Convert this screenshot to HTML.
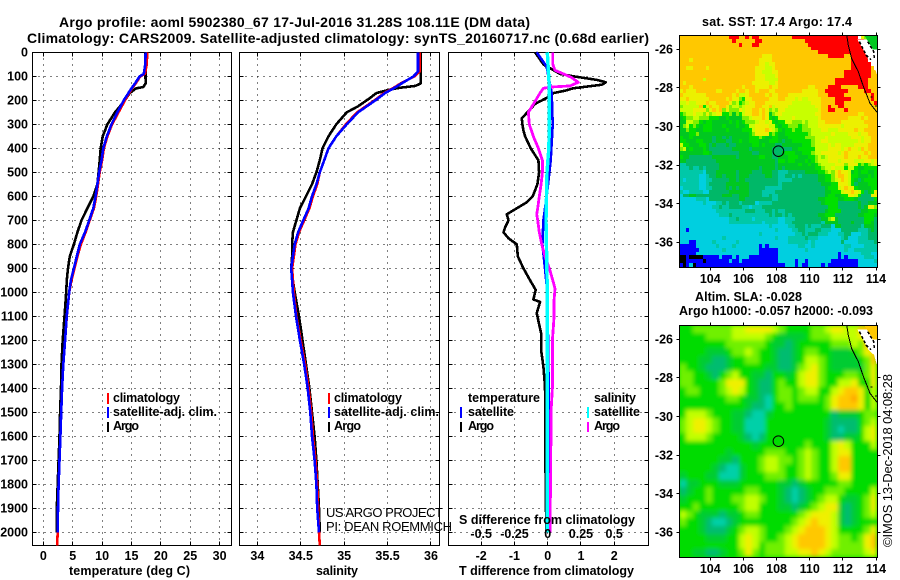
<!DOCTYPE html>
<html>
<head>
<meta charset="utf-8">
<title>Argo profile</title>
<style>
html,body{margin:0;padding:0;background:#fff;width:900px;height:580px;overflow:hidden}
svg{display:block}
text{font-family:"Liberation Sans",sans-serif;fill:#000}
.b{font-weight:bold;font-size:12.5px}
.t{font-weight:bold;font-size:14px}
.n{font-size:13px}
.tick{font-weight:bold;font-size:12.5px}
.crisp{shape-rendering:crispEdges}
</style>
</head>
<body>
<svg id="chart" xmlns="http://www.w3.org/2000/svg" width="900" height="580" viewBox="0 0 900 580">
<defs>
<clipPath id="clipSla"><rect x="679.5" y="325.5" width="198" height="232"/></clipPath>
<filter id="soft" x="-5%" y="-5%" width="110%" height="110%"><feGaussianBlur stdDeviation="2"/></filter>
</defs>
<rect x="0" y="0" width="900" height="580" fill="#fff"/>

<text class="t" x="59" y="27" textLength="471" lengthAdjust="spacing">Argo profile: aoml 5902380_67 17-Jul-2016 31.28S 108.11E (DM data)</text>
<text class="t" x="27" y="43" textLength="622" lengthAdjust="spacing">Climatology: CARS2009. Satellite-adjusted climatology: synTS_20160717.nc (0.68d earlier)</text>

<g id="panels"></g>

<text class="b" x="69" y="575" textLength="121" lengthAdjust="spacing">temperature (deg C)</text>
<text class="b" x="316" y="575" textLength="42" lengthAdjust="spacing">salinity</text>
<text class="b" x="459" y="575" textLength="175" lengthAdjust="spacing">T difference from climatology</text>

<g>
<rect class="crisp" x="107" y="393" width="2" height="11" fill="#f00"/>
<rect class="crisp" x="107" y="407" width="2" height="11" fill="#00f"/>
<rect class="crisp" x="107" y="422" width="2" height="10" fill="#000"/>
<text class="b" x="113" y="402" textLength="67" lengthAdjust="spacing">climatology</text>
<text class="b" x="113" y="416" textLength="104" lengthAdjust="spacing">satellite-adj. clim.</text>
<text class="b" x="113" y="430" textLength="26" lengthAdjust="spacing">Argo</text>
</g>
<g>
<rect class="crisp" x="328" y="393" width="2" height="11" fill="#f00"/>
<rect class="crisp" x="328" y="407" width="2" height="11" fill="#00f"/>
<rect class="crisp" x="328" y="422" width="2" height="10" fill="#000"/>
<text class="b" x="334" y="402" textLength="68" lengthAdjust="spacing">climatology</text>
<text class="b" x="334" y="416" textLength="105" lengthAdjust="spacing">satellite-adj. clim.</text>
<text class="b" x="334" y="430" textLength="27" lengthAdjust="spacing">Argo</text>
</g>
<text class="n" x="326" y="517" textLength="117" lengthAdjust="spacing">US ARGO PROJECT</text>
<text class="n" x="326" y="531" textLength="126" lengthAdjust="spacing">PI: DEAN ROEMMICH</text>

<g>
<text class="b" x="468" y="402" textLength="72" lengthAdjust="spacing">temperature</text>
<text class="b" x="468" y="416" textLength="46" lengthAdjust="spacing">satellite</text>
<text class="b" x="468" y="430" textLength="26" lengthAdjust="spacing">Argo</text>
<rect class="crisp" x="460" y="407" width="2" height="11" fill="#00f"/>
<rect class="crisp" x="460" y="422" width="2" height="10" fill="#000"/>
<text class="b" x="594" y="402" textLength="42" lengthAdjust="spacing">salinity</text>
<text class="b" x="594" y="416" textLength="46" lengthAdjust="spacing">satellite</text>
<text class="b" x="594" y="430" textLength="26" lengthAdjust="spacing">Argo</text>
<rect class="crisp" x="587" y="407" width="2" height="11" fill="#0ff"/>
<rect class="crisp" x="587" y="422" width="2" height="10" fill="#f0f"/>
</g>
<text class="b" x="459" y="524" textLength="176" lengthAdjust="spacing">S difference from climatology</text>

<g id="maps"></g>

<text class="b" x="702" y="26" textLength="150" lengthAdjust="spacing">sat. SST: 17.4 Argo: 17.4</text>
<text class="b" x="695" y="301" textLength="107" lengthAdjust="spacing">Altim. SLA: -0.028</text>
<text class="b" x="679" y="315" textLength="194" lengthAdjust="spacing">Argo h1000: -0.057 h2000: -0.093</text>
<text class="n" transform="translate(892,547) rotate(-90)" x="0" y="0" textLength="173" lengthAdjust="spacing">©IMOS 13-Dec-2018 04:08:28</text>
</svg>

<script>
/* ---------- profile data ---------- */
const depthTicks = [0,100,200,300,400,500,600,700,800,900,1000,1100,1200,1300,1400,1500,1600,1700,1800,1900,2000];
const tempTicks = [0,5,10,15,20,25,30];
const salTicks = [34,34.5,35,35.5,36];
const salTickLabels = ['34','34.5','35','35.5','36'];
const diffTicks = [-2,-1,0,1,2];
const salDiffTicks = [-0.5,-0.25,0,0.25,0.5];
const salDiffTickLabels = ['-0.5','-0.25','0','0.25','0.5'];

const climTempDepth = [0,50,90,100,130,150,200,250,300,350,400,450,500,550,600,650,700,750,800,850,900,950,1000,1100,1200,1300,1400,1500,1600,1700,1800,1900,2000,2054];
const climTemp = [17.7,17.6,17.3,16.5,15.7,15.1,13.9,12.8,11.7,10.9,10.3,10.0,9.6,9.3,9.0,8.6,7.9,7.2,6.4,5.8,5.3,4.8,4.4,4.0,3.7,3.4,3.2,3.05,2.9,2.75,2.6,2.5,2.45,2.35];
const satTemp = [17.4,17.35,17.1,16.4,15.6,15.0,13.7,12.6,11.6,10.8,10.2,9.9,9.5,9.2,8.9,8.5,7.8,7.1,6.2,5.7,5.2,4.7,4.4,3.97,3.7,3.4,3.2,3.05,2.9,2.75,2.6,2.5,2.45];
const argoTempDepth = [0,130,145,150,170,200,250,300,350,400,450,500,550,600,650,700,750,800,850,900,950,1000,1100,1200,1300,1400,1500,1600,1700,1800,1900,2000];
const argoTemp = [17.36,17.41,17.0,15.8,14.7,13.9,12.2,10.9,10.1,9.76,9.6,9.4,9.2,8.5,7.5,6.5,5.8,5.2,4.5,4.2,4.0,3.9,3.6,3.3,3.1,3.0,2.85,2.75,2.6,2.45,2.3,2.3];

const climSalDepth = [0,80,100,130,150,170,200,250,300,350,400,450,500,550,600,650,700,750,800,850,900,950,1000,1100,1200,1300,1400,1500,1600,1700,1800,1900,2000,2054];
const climSal = [35.87,35.87,35.81,35.65,35.56,35.46,35.35,35.15,35.02,34.91,34.82,34.77,34.72,34.69,34.64,34.6,34.54,34.48,34.44,34.42,34.4,34.41,34.42,34.45,34.5,34.55,34.59,34.62,34.64,34.67,34.69,34.7,34.71,34.72];
const satSal = [35.85,35.85,35.8,35.66,35.57,35.47,35.36,35.16,35.03,34.91,34.82,34.77,34.72,34.68,34.63,34.59,34.53,34.47,34.43,34.41,34.39,34.4,34.41,34.445,34.49,34.54,34.58,34.61,34.63,34.66,34.68,34.69,34.71];
const argoSalDepth = [0,130,140,148,155,170,190,200,225,250,300,350,400,450,500,550,600,650,700,750,800,850,900,950,1000,1100,1200,1300,1400,1500,1600,1700,1800,1900,2000];
const argoSal = [35.88,35.88,35.82,35.64,35.53,35.37,35.3,35.26,35.16,35.03,34.91,34.82,34.75,34.72,34.68,34.63,34.56,34.49,34.45,34.41,34.4,34.4,34.39,34.41,34.43,34.48,34.52,34.56,34.6,34.63,34.66,34.68,34.695,34.71,34.72];

const argoTDiffDepth = [0,50,60,70,90,100,115,125,135,150,160,170,190,215,250,275,300,325,350,400,450,500,550,600,625,650,675,700,730,750,775,800,850,900,950,990,1030,1040,1087,1100,1171,1240,1310,1393,1500,1600,1700,1900,2000];
const argoTDiff = [-0.38,-0.13,-0.03,0.12,0.37,0.77,1.48,1.75,1.63,0.77,0.52,0.17,-0.03,-0.38,-0.61,-0.78,-0.76,-0.73,-0.68,-0.51,-0.28,-0.26,-0.31,-0.45,-0.63,-0.93,-1.23,-1.18,-1.28,-1.33,-1.18,-0.93,-0.9,-0.73,-0.53,-0.36,-0.43,-0.23,-0.33,-0.31,-0.2,-0.2,-0.13,-0.08,-0.07,-0.07,-0.07,-0.05,-0.04];
const satTDiffDepth = [0,60,100,170,300,450,600,700,800,900,1000,1500,2000];
const satTDiff = [-0.33,-0.03,0.02,0.12,0.15,0.09,-0.03,-0.13,-0.16,-0.08,-0.01,0.04,0.02];
const argoSDiffDepth = [0,50,75,90,105,125,140,145,150,170,200,250,300,350,400,450,500,550,600,650,675,700,750,800,850,900,950,985,1030,1100,1200,1400,1500,1700,1950,2000];
const argoSDiff = [0.038,0.038,0.055,0.118,0.18,0.23,0.168,0.018,-0.032,-0.058,-0.09,-0.145,-0.138,-0.108,-0.07,-0.04,-0.04,-0.05,-0.063,-0.075,-0.083,-0.075,-0.063,-0.045,-0.02,0.012,0.038,0.055,0.048,0.048,0.035,0.035,0.025,0.023,0.018,0.018];
const satSDiffDepth = [0,150,300,400,500,700,1000,2000];
const satSDiff = [-0.003,0.013,0.013,0.008,-0.005,-0.013,-0.003,-0.003];

/* ---------- map data ---------- */
const sstPalette = {b:'#0000ff',k:'#000000',c:'#00cfe0',t:'#00c8a8',g:'#00b868',G:'#00c820',H:'#00e000',l:'#80f000',y:'#c8ff00',Y:'#ecf000',o:'#ffc800',r:'#ff0000',w:'#ffffff'};
const slaPalette = ['#00d0a8','#00bc70','#00cc30','#00dc00','#70f000','#c0ff00','#f0f000','#ffc800','#ffa800'];
const sstRows = [
"ooooooooooooooorrroororroooooo"+"oooorrrrrrrrrrrrrrrrrrrrwYlHGg",
"ooooooooooooooooroooooorrooooo"+"oooooooorrrrrrrrrrrrrrrrrrlwHg",
"oooooooooooooooooorooorroooooo"+"ooooooooorrrrrrrrrrrrrrrrrwHGg",
"oooooooooooooooooooooooooooooo"+"oooooooooorrrrrrrrrrrrrrrrwwHg",
"oooooooooooooooooooooooooooooo"+"oooooooooooorrrrrrrrrrrrrrrwwG",
"oooooooooooooooooooooooooYYYoo"+"ooooooooooooooorrrrroorrrrrwww",
"oooYooooooooooooooooooooYYYYoo"+"oooooooooooooooooooooorrrrrwww",
"ooooooooooooooooooooooooYYyYYo"+"oooooooooooooooooooooorrrrrrww",
"ooYYooooYooooooooooooooYYYyyYo"+"oooooooooooooooooooooorrrrrrow",
"oooooooooooooooooooooooYYyyyYY"+"oooooooooooooooooooorrrrrrrroo",
"oooooooooooooooooooooooYYYyyyY"+"oooooooooooooooooooorrrrrrrroo",
"oooooooyoooooooooooooooYYYyyyy"+"ooooooooooooooooorrrrrrrrrrooo",
"oYooooooooooooooooooooYYYYYyyY"+"ooooooooooooooooorrrrrrrrrrooo",
"oooYoooooooooooooooYoooYYYYoYY"+"oooooooooYYoooorrrrooooorrrooo",
"YoYYYooooooYYooooYooYooYoooYYo"+"oooooooYYYYYoorrrrrrrooooorroo",
"oYYYYYYYooooooooYoyyYoooooYoYY"+"oooYYYYYYYYYooorrrrrooooooooro",
"YYoYYYYYYoooooYoYYlHYYoooooYYY"+"ooYYYyYyyYYYYoooorrrrrooooooro",
"yyYyyYYYoYYooooYlyHlyYYoooYYYY"+"YYYYyyyyyyYYYoooorrrooooooooor",
"lyyyyyoHyoYYooYlyylyYYYooYYoyY"+"YYYyyyyyyyyYYooroorroooooooooo",
"yyyyYYYYlYoYolYlllYyYYooYoYlyl"+"YYyyyyyyyyyyYoorrooorooooooooo",
"HlyyYyylYlyYYHHlGlHyYYooYoYGly"+"YyyyyyyyyyyYYoooooooooooYYoooo",
"GHllyylllHHHGGHGGGGllyYYYoYHGH"+"yyyyYyyyyyyyYooooooooYYYYoYooo",
"GGyyllHGHHGGGGGHGHGHlllyYYyYHG"+"HHyylllylyyyYYoooooYYYYYYYoooo",
"GlyHlHGHHHGGGHGGGHGGHyyYYYYyyH"+"GHHlllHllyyyYYYYYYYyYYYYYYYooo",
"GGlHHGGHHHGGGGHGGGGHHHyYYYoYyl"+"HGHHlHHlllyyyYYyyyYYYYYoYYoooo",
"GGGHHlGGGGGGGGGGGGGGGHlYYYYHlH"+"GGHHHHHHHlyyyyyyYyyyyYYYyYYooo",
"HGGHGGGGGGgGGgGgGGGGGHHHlHGGHH"+"GGGHHHHHlllyyyYyyyyyyyYYYyYYoo",
"HHGGGHHGGGgGGGggGGHGGHHHGGGHHH"+"GgGGHHHHHHlyyYYyyyyyyyyyYyYYoo",
"yHHGGGHHGgGgggGggGGGGGHHGHGGGg"+"gGGGGGGHHHlyyyyYyYYyyyyYYYYooo",
"lyGHGGGHGgggggggGGGGGgGGGGGGgg"+"ggggGGHHHHHyyyyYYYYyYoYYyoYooo",
"GGGGGGGHHGggggggggGGGGggGGGGgg"+"gGHHHGGHHHlyyYYYYYyYoYYYYYoYoo",
"HGGgggggggGGGGGGGgGGGGGGHHGGgg"+"GGGHHHGGGHHlylyYYYYYoYYYoYYooo",
"GGgggggggggGGGGGGGGGGGGGGGGGGg"+"HHGHHGGGHGHlyyyYYYyYYYYyyyYYyY",
"ttggggggggggGGGGGGGGGGGGGGGGGg"+"GGGGGGHGGHGHlyyyyYYYlYYYHlHlyY",
"tttgttgtggggGGGGGGGGGGGGgGGGGg"+"GgGGGGGGGGGHHlyyYyyyHyyHGGHHHH",
"tttttttcgggGGGGGGgGGGGgggGGGgg"+"tttgggggGGGGHHlylYoYYyGHGHHGGH",
"ttttttcctggGGgGGGgGGGgggggGGgg"+"ttggtgtgggggGGHHlYooYyHHGGGHGH",
"tcttttccttgggggGGgGGgggggggggg"+"ttttggggggggGGHHlyYoYyHGgGHHHH",
"ttttttcctgggggGGGGGGGggggggggg"+"tggggggggggggGGGHHYYYyHgGGGHHH",
"ctttttccttggggGgGgGGGgggggtttt"+"tgggggggggggggGHHHyYoYYHGGGGHH",
"tccttttccggggggGGGGGGggggttttg"+"ggggggggggggggGGHHHyYYoYyHgGHY",
"cggGGggggggggGGGggGGGggggttgtt"+"ggggggggggggggGHHGGHHYYyHgggYY",
"ccccctttcgggggggggGGggggggggtt"+"ggggggggggggGGHHHHGGHHHGgggggH",
"ccccccctcccttgtgggtggggcttttgg"+"gggggggggggggGHHHHggggggGggGGG",
"ccccccccccttgttggggttctttggggg"+"gggggggggggggggHHHggggggGgGYYl",
"ccccccccccctttttttttgggtttggtg"+"ttggggggggggggGHHHHggggggGGHHH",
"cccccccccccctttgtttttttttttgtg"+"gtgtggggggggGGHHHgggggggGGHHHG",
"cccccccccccccccttgttttcttttttt"+"cctttggggggggGGlyGggggggggHHHg",
"cccccccccccccccttttttttttctttt"+"ccttgggggggggtGGGGggggGgggHHGg",
"ccccccccccccccccccccccccccctcc"+"cccttgggtgtttgggcGGggggggtGGGg",
"ccbcccccccccccccccccccccccccct"+"ccccttggtttggtttcccgggggtttgGg",
"cccccccccccccccccccccccctccccc"+"cccccttgtgggtttcccttggcccttggg",
"ccccccccccccctccccccccccccccct"+"ccctttttgtttccccccctgccctttggg",
"cccbbccccctcccccctcccccccccccc"+"cccttttttctccccccccgcccctttttg",
"bbbbbcccccctcccctcccccccbcbccc"+"ccccccttcctcccccccccttcccctttt",
"bbbbbbccccccctccccccccccbbbbbb"+"cccccccctccccccccccctccttttttt",
"bbbbbcccccccccccccccccccbbbbbb"+"ccccccccccccccccccbcccccctttcc",
"kkbkkkkbbbbbcbbbcbcccbbbbbbbbb"+"ccccccccccccccccccbcbccccctttc",
"kkbbbbbkbbbbbbbcbbcbbbbbbbbbbb"+"cccccbccbcccccccbbbbbbbbccccct",
"bkbckbbbbbbbbbbbbbbbbbbbbbbbbb"+"bbcccbcbbccccbcbbbbbbbbbcccccc"
];
const slaRows = [
"334444445566665433334456655777",
"333344445555543222234445555667",
"333333344444432212333334445477",
"333322234454332112344332223467",
"333221123344332112355432222347",
"433211123333322112456432222246",
"443321345332213323566433344346",
"443333466632113433566433556336",
"344333456532113443455335677635",
"333333344322103443444346778635",
"333333333321103343333346777635",
"355543332210023333333331222344",
"456654332200033333333321111345",
"456654332200033333333321011356",
"355543333210133333333321122356",
"333333333332333333343335653335",
"333333323333344433454335663333",
"333333221333455443454335773333",
"333332100233455433454335773333",
"233322000233344433454334663333",
"022333222333333221233333443333",
"123343333344333210123344433335",
"233343334455433210123455322346",
"334333333455333221234566212346",
"543222122344333333456665212345",
"433210012333333334567665212333",
"333211123455433345677765333346",
"333322233565433456777765443467",
"333333333565344456777765444467",
"332211233464344455667654444456"
];
const lonTicks = [104,106,108,110,112,114];
const latTicks = [-26,-28,-30,-32,-34,-36];
const lonRange = [102.14,114.09];
const latRange = [-25.26,-37.28];
const floatLon = [108.11];
const floatLat = [-31.28];
const coastLon = [112.23,112.33,112.53,112.93,113.24,113.64,114.08];
const coastLat = [-25.26,-25.78,-26.47,-27.16,-27.93,-28.8,-29.28];
const landLon = [112.87,113.24,113.54,113.88,114.08,114.08,113.8];
const landLat = [-25.48,-26.03,-26.55,-26.81,-27.38,-26.03,-25.48];
const squiggleLon = [113.0,113.4,113.7];
const squiggleLat = [-25.6,-26.3,-26.55];
const squiggle2Lon = [113.5,113.85,113.9];
const squiggle2Lat = [-25.6,-26.1,-26.45];
const patchLon = [113.3,114.08,114.08,113.8];
const patchLat = [-25.28,-25.28,-26.0,-26.0];
const isletLon = [113.68,113.95];
const isletLat = [-28.45,-28.9];

/* ---------- axis functions ---------- */
const SVGNS = 'http://www.w3.org/2000/svg';
function depthY(d){ return 52.3 + 0.24*d; }
function tempX(t){ return 43.33 + 5.875*t; }
function salX(s){ return 257.33 + 86.83*(s-34); }
function diffX(v){ return 547.7 + 33.25*v; }
function salDiffX(s){ return diffX(s*4); }
function lonX(l){ return 710.3 + 16.57*(l-104); }
function latY(l,off){ return 49.3 + 19.3*(-26-l) + off; }

const panelsRoot = document.getElementById('panels');
const mapsRoot = document.getElementById('maps');

function mk(tag,parent,attrs){
  const e = document.createElementNS(SVGNS,tag);
  for (const k in attrs) e.setAttribute(k,attrs[k]);
  parent.appendChild(e);
  return e;
}
function crisp(v){ return Math.floor(v)+0.5; }

function drawPanel(name,left,right,xTicks,xFn,xLabels,showDepth){
  const g = mk('g',panelsRoot,{});
  
  
  const top = 52.5, bot = 545.5;
  depthTicks.forEach(function(d){
    const y = crisp(depthY(d));
    const line = mk('line',g,{x1:left,x2:right,y1:y,y2:y,stroke:'#000','stroke-width':1,'stroke-dasharray':'1 5','class':'crisp'});
    
    
    const t1 = mk('line',g,{x1:left,x2:left+4,y1:y,y2:y,stroke:'#000','class':'crisp'});
    
    
    const t2 = mk('line',g,{x1:right-4,x2:right,y1:y,y2:y,stroke:'#000','class':'crisp'});
    
    
    if (showDepth){
      const lab = mk('text',g,{x:28,y:depthY(d)+4.3,'text-anchor':'end','class':'tick'});
      
      
      lab.textContent = String(d);
    }
  });
  xTicks.forEach(function(v,i){
    const x = crisp(xFn(v));
    const line = mk('line',g,{x1:x,x2:x,y1:top,y2:bot,stroke:'#000','stroke-width':1,'stroke-dasharray':'1 5','class':'crisp'});
    
    
    const t1 = mk('line',g,{x1:x,x2:x,y1:bot-4,y2:bot,stroke:'#000','class':'crisp'});
    
    
    const t2 = mk('line',g,{x1:x,x2:x,y1:top,y2:top+4,stroke:'#000','class':'crisp'});
    
    
    const lab = mk('text',g,{x:xFn(v),y:560,'text-anchor':'middle','class':'tick'});
    
    
    lab.textContent = xLabels[i];
  });
  const frame = mk('rect',g,{x:left,y:top,width:right-left,height:bot-top,fill:'none',stroke:'#000','stroke-width':1,'class':'crisp'});
  
  
  return g;
}

function drawLine(g,name,depths,values,xFn,color,width){
  const pts = values.map(function(v,i){ return xFn(v).toFixed(1)+','+depthY(depths[i]).toFixed(1); }).join(' ');
  const pl = mk('polyline',g,{points:pts,fill:'none',stroke:color,'stroke-width':width,'stroke-linejoin':'round','class':'crisp'});
  
  
}

const gT = drawPanel('temperature',32.5,231.5,tempTicks,tempX,tempTicks.map(String),true);
drawLine(gT,'argo-temperature-line',argoTempDepth,argoTemp,tempX,'#000',2.6);
drawLine(gT,'climatology-temperature-line',climTempDepth,climTemp,tempX,'#f00',2.6);
drawLine(gT,'satellite-temperature-line',climTempDepth,satTemp,tempX,'#00f',2.6);

const gS = drawPanel('salinity',239.5,439.5,salTicks,salX,salTickLabels,false);
drawLine(gS,'argo-salinity-line',argoSalDepth,argoSal,salX,'#000',2.6);
drawLine(gS,'climatology-salinity-line',climSalDepth,climSal,salX,'#f00',2.6);
drawLine(gS,'satellite-salinity-line',climSalDepth,satSal,salX,'#00f',2.6);

const gD = drawPanel('t-difference',448.5,648.5,diffTicks,diffX,diffTicks.map(String),false);
drawLine(gD,'argo-t-difference-line',argoTDiffDepth,argoTDiff,diffX,'#000',2.6);
drawLine(gD,'satellite-t-difference-line',satTDiffDepth,satTDiff,diffX,'#00f',2.6);
drawLine(gD,'argo-s-difference-line',argoSDiffDepth,argoSDiff,salDiffX,'#f0f',2.8);
drawLine(gD,'satellite-s-difference-line',satSDiffDepth,satSDiff,salDiffX,'#0ff',3.4);
salDiffTicks.forEach(function(v,i){
  const lab = mk('text',gD,{x:salDiffX(v),y:538,'text-anchor':'middle','class':'tick'});
  
  
  lab.textContent = salDiffTickLabels[i];
});

function drawCells(parent,rows,colorOf,off,cellName){
  const nr = rows.length;
  rows.forEach(function(row,r){
    const nc = 60 === nr ? 60 : row.length;
    const text = row.padEnd(nc,row[row.length-1]).slice(0,nc);
    const dLat = (latRange[1]-latRange[0])/nr;
    const dLon = (lonRange[1]-lonRange[0])/nc;
    const y0 = Math.round(latY(latRange[0]+r*dLat,off));
    const y1 = Math.round(latY(latRange[0]+(r+1)*dLat,off));
    for (let c=0;c<nc;c++){
      const x0 = Math.round(lonX(lonRange[0]+c*dLon));
      const x1 = Math.round(lonX(lonRange[0]+(c+1)*dLon));
      const cell = mk('rect',parent,{x:x0,y:y0,width:x1-x0,height:y1-y0,fill:colorOf(text[c]),'class':'crisp'});
      
      
    }
  });
}

function lonLatPts(lons,lats,off){
  return lons.map(function(l,i){ return lonX(l).toFixed(1)+','+latY(lats[i],off).toFixed(1); }).join(' ');
}

function drawMapFurniture(g,off,name,patchColor){
  const land = mk('polygon',g,{points:lonLatPts(landLon,landLat,off),fill:'#fff','class':'crisp'});
  
  
  const patch = mk('polygon',g,{points:lonLatPts(patchLon,patchLat,off),fill:patchColor,'class':'crisp'});
  
  
  const coast = mk('polyline',g,{points:lonLatPts(coastLon,coastLat,off),fill:'none',stroke:'#000','stroke-width':1,'class':'crisp'});
  
  
  const sq1 = mk('polyline',g,{points:lonLatPts(squiggleLon,squiggleLat,off),fill:'none',stroke:'#000','stroke-width':1.5,'stroke-dasharray':'3 2','class':'crisp'});
  
  
  const sq2 = mk('polyline',g,{points:lonLatPts(squiggle2Lon,squiggle2Lat,off),fill:'none',stroke:'#000','stroke-width':1.5,'stroke-dasharray':'3 2','class':'crisp'});
  
  
  isletLon.forEach(function(l,i){
    const islet = mk('rect',g,{x:lonX(l),y:latY(isletLat[i],off),width:2,height:1,fill:'#000','class':'crisp'});
    
    
  });
  const mark = mk('circle',g,{cx:lonX(floatLon[0]),cy:latY(floatLat[0],off),r:5.3,fill:'none',stroke:'#000','stroke-width':1});
  
  
  const top = 35.5+off, bot = 267.5+off, left = 679.5, right = 877.5;
  lonTicks.forEach(function(l){
    const x = crisp(lonX(l));
    const t1 = mk('line',g,{x1:x,x2:x,y1:top-3,y2:top,stroke:'#000','class':'crisp'});
    
    
    const t2 = mk('line',g,{x1:x,x2:x,y1:bot,y2:bot+3,stroke:'#000','class':'crisp'});
    
    
    const lab = mk('text',g,{x:lonX(l),y:283+off,'text-anchor':'middle','class':'tick'});
    
    
    lab.textContent = String(l);
  });
  latTicks.forEach(function(l){
    const y = crisp(latY(l,off));
    const t1 = mk('line',g,{x1:left-3,x2:left,y1:y,y2:y,stroke:'#000','class':'crisp'});
    
    
    const t2 = mk('line',g,{x1:right,x2:right+3,y1:y,y2:y,stroke:'#000','class':'crisp'});
    
    
    const lab = mk('text',g,{x:673,y:latY(l,off)+4.3,'text-anchor':'end','class':'tick'});
    
    
    lab.textContent = String(l);
  });
  const frame = mk('rect',g,{x:left,y:top,width:right-left,height:bot-top,fill:'none',stroke:'#000','class':'crisp'});
  
  
}

const gSst = mk('g',mapsRoot,{});


const sstBg = mk('rect',gSst,{x:679,y:35,width:199,height:233,fill:'#ffc800'});


drawCells(gSst,sstRows,function(ch){ return sstPalette[ch]||'#ffc800'; },0,'sst-cell');
drawMapFurniture(gSst,0,'sst-map','#00c820');

const gSla = mk('g',mapsRoot,{});


const clipG = mk('g',gSla,{'clip-path':'url(#clipSla)'});


const slaBg = mk('rect',clipG,{x:679,y:325,width:199,height:233,fill:'#00dc00'});


const blurG = mk('g',clipG,{filter:'url(#soft)'});


drawCells(blurG,slaRows,function(ch){ return slaPalette[+ch]; },290,'sla-cell');
drawMapFurniture(gSla,290,'sla-map','#ffc800');
</script>
</body>
</html>
